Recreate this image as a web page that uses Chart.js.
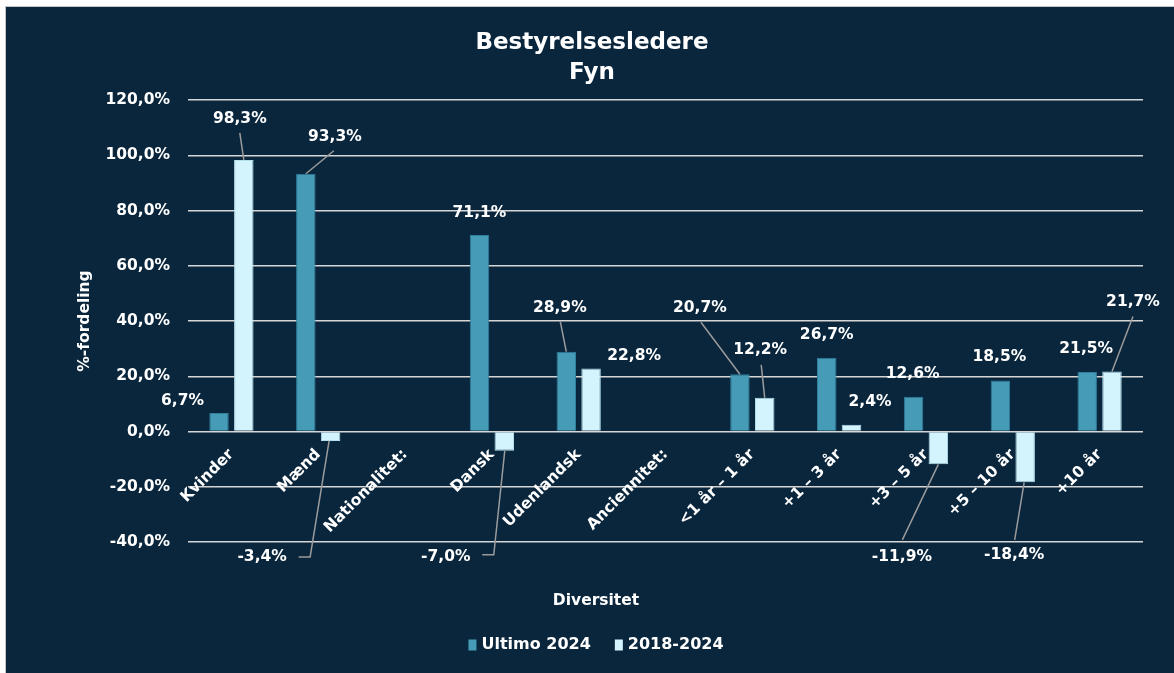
<!DOCTYPE html>
<html lang="da">
<head>
<meta charset="UTF-8">
<title>Bestyrelsesledere Fyn</title>
<style>
  html, body { margin: 0; padding: 0; background: #ffffff; }
  .frame {
    position: absolute; left: 5px; top: 6px;
    width: 1169px; height: 667px; box-sizing: border-box;
    border-left: 1px solid #c4c4c4; border-top: 1px solid #c4c4c4;
    background: #0a263d;
  }
  .chart-box { position: absolute; left: 0; top: 0; width: 1168px; height: 666px; }
</style>
</head>
<body>
<div class="frame">
  <div class="chart-box"><canvas id="chart"></canvas></div>
</div>

<script src="https://cdn.jsdelivr.net/npm/chart.js"></script>
<script>
// data
const categories = ['Kvinder', 'Mænd', 'Nationalitet:', 'Dansk', 'Udenlandsk', 'Anciennitet:',
  '<1 år – 1 år', '+1 – 3 år', '+3 – 5 år', '+5 – 10 år', '+10 år'];
const seriesNames = ['Ultimo 2024', '2018-2024'];
const ultimo2024 = [6.7, 93.3, null, 71.1, 28.9, null, 20.7, 26.7, 12.6, 18.5, 21.5];
const change2018_2024 = [98.3, -3.4, null, -7.0, 22.8, null, 12.2, 2.4, -11.9, -18.4, 21.7];
const yTicks = [-40, -20, 0, 20, 40, 60, 80, 100, 120];

// where each value label sits, relative to the end of its bar (dx, dy)
const labelPos = [
  [[-36.5, -12], [29, -37], null, [0, -22], [-6.5, -43.5], null, [-40, -66], [0, -23], [-1, -23], [-1, -23], [-1, -23]],
  [[-4, -41], [-68.5, 116], null, [-58.5, 106], [43, -12.5], null, [-4.5, -48], [18.5, -23], [-36.5, 92.5], [-11, 72.5], [21, -69.5]]
];
// leader lines, same relative coordinates
const leaders = [
  [null, [[28, -23], [0, 0]], null, null, [[-6, -30], [0, 0]], null, [[-39, -52], [0, 0]], null, null, null, null],
  [[[-4, -27], [0, 0]], [[-32, 116], [-20.5, 116], [-1.5, 0]], null, [[-22, 104], [-10.5, 104], [0.5, 0]], null, null,
   [[-3.5, -33], [0, 0]], null, [[-36, 75.5], [0, 0]], [[-10.5, 57.5], [-1, 0]], [[21, -55], [0, 0]]]
];

const FAMILY = '"DejaVu Sans", sans-serif';
const pct = v => Number(v).toFixed(1).replace('.', ',') + '%';

const barLabels = {
  id: 'barLabels',
  afterDatasetsDraw(chart) {
    const ctx = chart.ctx;
    ctx.save();
    ctx.font = 'bold 15.5px ' + FAMILY;
    ctx.textAlign = 'center';
    ctx.textBaseline = 'middle';
    chart.data.datasets.forEach((ds, d) => {
      chart.getDatasetMeta(d).data.forEach((bar, i) => {
        const v = ds.data[i];
        if (v == null) return;
        const line = leaders[d][i];
        if (line) {
          ctx.strokeStyle = '#9b9b9b';
          ctx.lineWidth = 1.5;
          ctx.beginPath();
          line.forEach((p, k) => {
            if (k === 0) ctx.moveTo(bar.x + p[0], bar.y + p[1]);
            else ctx.lineTo(bar.x + p[0], bar.y + p[1]);
          });
          ctx.stroke();
        }
        const off = labelPos[d][i];
        ctx.fillStyle = '#ffffff';
        ctx.fillText(pct(v), bar.x + off[0], bar.y + off[1]);
      });
    });
    ctx.restore();
  }
};

// chart title, x axis title and legend
const decor = {
  id: 'decor',
  afterDraw(chart) {
    const ctx = chart.ctx;
    ctx.save();
    ctx.fillStyle = '#ffffff';
    ctx.textBaseline = 'middle';
    ctx.textAlign = 'center';
    ctx.font = 'bold 23px ' + FAMILY;
    ctx.fillText('Bestyrelsesledere', 586, 36);
    ctx.fillText('Fyn', 586, 66);

    ctx.font = 'bold 15.5px ' + FAMILY;
    ctx.fillText('Diversitet', 590, 594);

    ctx.font = 'bold 16px ' + FAMILY;
    ctx.textAlign = 'left';
    const items = chart.data.datasets.map(ds => ({
      text: ds.label, color: ds.backgroundColor, w: ctx.measureText(ds.label).width
    }));
    const box = 8, gap = 5, itemGap = 24, ly = 638;
    let total = items.reduce((s, it) => s + box + gap + it.w, 0) + itemGap * (items.length - 1);
    let x = 590 - total / 2;
    items.forEach(it => {
      ctx.fillStyle = it.color;
      ctx.fillRect(x, ly - 5.5, box, 11);
      x += box + gap;
      ctx.fillStyle = '#ffffff';
      ctx.fillText(it.text, x, ly);
      x += it.w + itemGap;
    });
    ctx.restore();
  }
};

new Chart(document.getElementById('chart'), {
  type: 'bar',
  data: {
    labels: categories,
    datasets: [
      { label: seriesNames[0], data: ultimo2024, backgroundColor: '#469cb7', borderColor: '#2f7f9c', borderWidth: 1 },
      { label: seriesNames[1], data: change2018_2024, backgroundColor: '#d4f4fd', borderColor: '#b4e0ee', borderWidth: 1 }
    ]
  },
  options: {
    responsive: true,
    maintainAspectRatio: false,
    animation: false,
    layout: { padding: { top: 93, right: 31, bottom: 131, left: 0 } },
    datasets: { bar: { categoryPercentage: 0.571, barPercentage: 0.786 } },
    plugins: {
      legend: { display: false },
      title: { display: false },
      tooltip: { enabled: false }
    },
    scales: {
      x: {
        position: { y: 0 },
        grid: { display: false, drawTicks: false },
        border: { display: false },
        ticks: {
          color: '#ffffff',
          font: { family: FAMILY, size: 15.5, weight: 'bold' },
          maxRotation: 45, minRotation: 45, autoSkip: false,
          padding: 14,
          labelOffset: 0
        }
      },
      y: {
        min: yTicks[0],
        max: yTicks[yTicks.length - 1],
        grid: { color: '#d6d6d6', lineWidth: 1.5, drawTicks: false },
        border: { display: false },
        ticks: {
          color: '#ffffff',
          font: { family: FAMILY, size: 15.5, weight: 'bold' },
          padding: 18,
          callback: v => pct(v)
        },
        afterBuildTicks(scale) { scale.ticks = yTicks.map(v => ({ value: v })); },
        title: {
          display: true, text: '%-fordeling', color: '#ffffff',
          font: { family: FAMILY, size: 15.5, weight: 'bold' },
          padding: { top: 70, bottom: 0 }
        },
        afterFit(scale) { scale.width = 182; }
      }
    }
  },
  plugins: [barLabels, decor]
});
</script>
</body>
</html>
